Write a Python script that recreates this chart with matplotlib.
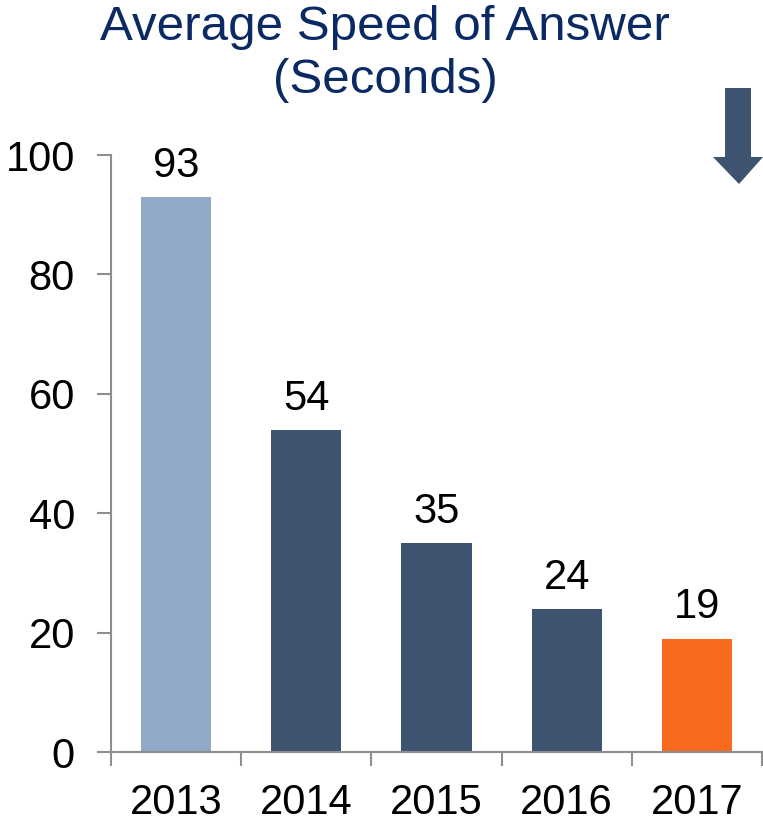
import matplotlib.pyplot as plt
from matplotlib.patches import Polygon

years = ['2013', '2014', '2015', '2016', '2017']
speed = [93, 54, 35, 24, 19]
colors = ['#91a8c6', '#3d5370', '#3d5370', '#3d5370', '#f7691d']

plt.rcParams['font.family'] = ['Liberation Sans', 'DejaVu Sans']

fig = plt.figure(figsize=(7.63, 8.22), dpi=100)
ax = fig.add_axes([111 / 763, 70 / 822, 651 / 763, 597 / 822])

x = range(len(years))
ax.bar(x, speed, width=0.54, color=colors)
for i, v in enumerate(speed):
    ax.annotate(str(v), (i, v), xytext=(0, 8), textcoords='offset points',
                ha='center', va='bottom', fontsize=30)

ax.set_xlim(-0.5, len(years) - 0.5)
ax.set_ylim(0, 100)
ax.set_yticks([0, 20, 40, 60, 80, 100])
ax.set_xticks(x)
ax.set_xticklabels(years)
ax.set_xticks([i - 0.5 for i in range(len(years) + 1)], minor=True)

gray = '#8e8e8e'
for s in ['top', 'right']:
    ax.spines[s].set_visible(False)
for s in ['left', 'bottom']:
    ax.spines[s].set_color(gray)
    ax.spines[s].set_linewidth(1.5)

ax.tick_params(axis='y', length=10, width=1.5, color=gray, labelsize=30, pad=16)
ax.tick_params(axis='x', which='major', length=0, labelsize=30, pad=22)
ax.tick_params(axis='x', which='minor', length=10, width=1.5, color=gray)

fig.text(0.505, 0.994, 'Average Speed of Answer\n(Seconds)', ha='center', va='top',
         fontsize=35.5, color='#0b2a63', linespacing=1.22)

# down arrow in the corner
W, H = 763, 822
pts = [(725, 88), (751, 88), (751, 157), (763, 157), (739, 184), (713, 157), (725, 157)]
fig.patches.append(Polygon([(px / W, 1 - py / H) for px, py in pts], closed=True,
                           transform=fig.transFigure, facecolor='#3d5370', edgecolor='none'))

fig.savefig('out.png', dpi=100)
